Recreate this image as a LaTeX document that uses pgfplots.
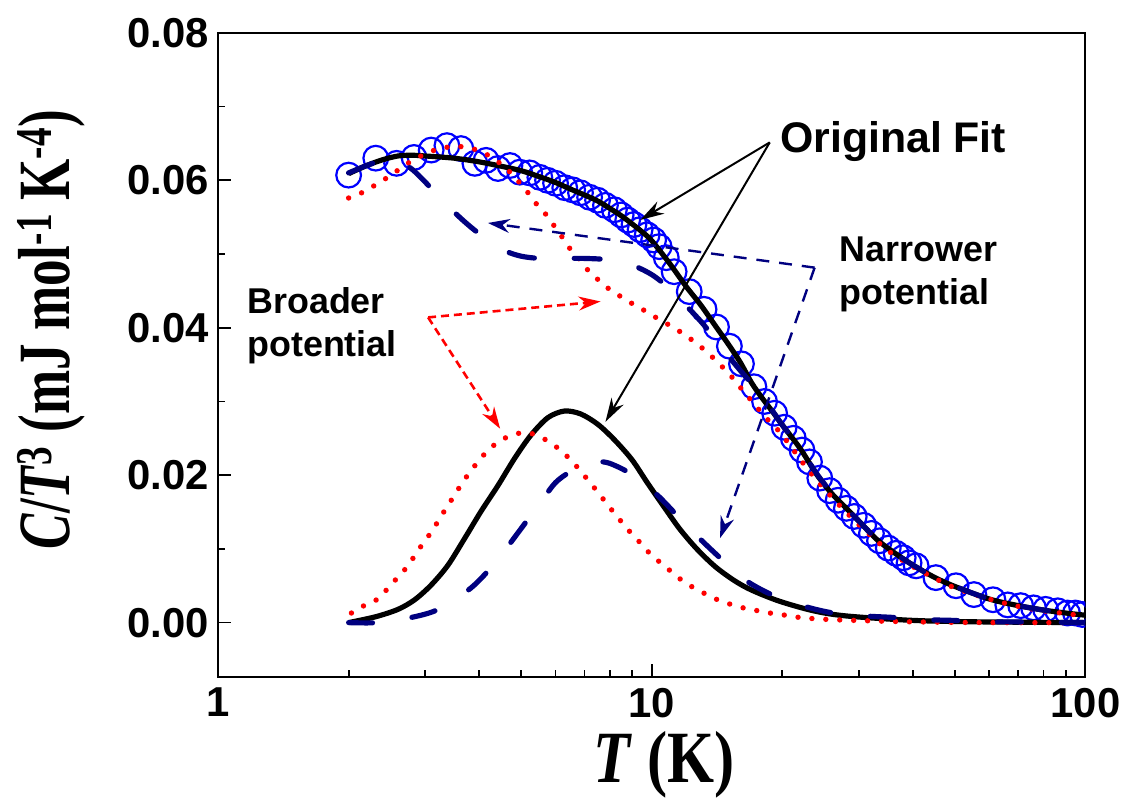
\documentclass[border=0pt]{standalone}
\usepackage{pgfplots}
\pgfplotsset{compat=1.18}
\usepackage{fontspec}
\setmainfont{Liberation Serif}
\setsansfont{Liberation Sans}
\usetikzlibrary{arrows.meta}
\usepackage{graphicx}
\definecolor{dnavy}{rgb}{0,0,0.5}

\begin{document}
\begin{tikzpicture}
\begin{axis}[
  name=ax,
  scale only axis, width=435.5pt, height=323.5pt,
  xmode=log, xmin=1, xmax=100,
  ymin=-0.0074, ymax=0.08,
  scaled y ticks=false,
  clip marker paths=true,
  xtick={1,10,100}, xticklabels={1,10,100},
  minor xtick={2,3,4,5,6,7,8,9,20,30,40,50,60,70,80,90},
  ytick={0,0.02,0.04,0.06,0.08}, yticklabels={0.00,0.02,0.04,0.06,0.08},
  minor ytick={0.01,0.03,0.05,0.07},
  xtick pos=left, ytick pos=left,
  tick align=inside,
  major tick length=6.5pt, minor tick length=3.5pt,
  every tick/.style={black, line width=0.9pt},
  axis line style={line width=1pt},
  tick label style={font=\sffamily\bfseries\fontsize{21}{21}\selectfont},
  xticklabel style={yshift=-2pt},
  yticklabel style={xshift=-1pt},
]
% experimental data
\addplot[only marks, mark=o, mark size=6.2pt, blue, mark options={line width=1.1pt}] coordinates {
(2.0,0.0607)(2.31,0.0630)(2.58,0.0623)(2.83,0.0631)(3.10,0.0641)(3.37,0.0647)(3.63,0.0643)
(3.91,0.0623)(4.15,0.0627)(4.42,0.0616)(4.71,0.0620)(4.96,0.0611)(5.23,0.0610)(5.52,0.0604)
(5.75,0.0600)(6.00,0.0596)(6.30,0.0590)(6.57,0.0587)(6.85,0.0583)(7.19,0.0577)(7.50,0.0573)
(7.82,0.0566)(8.20,0.0560)(8.50,0.0553)(8.80,0.0546)(9.10,0.0540)(9.40,0.0533)(9.76,0.0526)
(10.1,0.0519)(10.4,0.0510)(10.8,0.0495)(11.26,0.0476)(12.2,0.0449)(13.2,0.0425)(14.1,0.0401)
(15.1,0.0375)(16.1,0.0351)(17.2,0.0320)(18.2,0.0300)(19.2,0.0284)(20.2,0.0265)(21.2,0.0250)
(22.2,0.0234)(23.1,0.0218)(24.4,0.0196)(25.7,0.0179)(26.9,0.0166)(28.1,0.0155)(29.3,0.0144)
(30.8,0.0132)(32.1,0.0121)(33.5,0.0111)(35.1,0.0101)(36.6,0.0094)(38.0,0.0088)(39.2,0.0081)
(40.7,0.0077)(45.2,0.0061)(50.3,0.0050)(55.3,0.0038)(61.2,0.0031)(66.2,0.0024)(70.9,0.0023)
(75.9,0.0020)(80.9,0.0018)(86.3,0.0016)(90.9,0.0013)(94.8,0.0013)(98.4,0.0011)(101,0.0010)
};
% original fit, total
\addplot[black, line width=2.6pt, smooth] coordinates {
(2.0,0.0609)(2.2,0.0620)(2.4,0.0628)(2.6,0.0633)(2.8,0.0634)(3.0,0.0633)(3.5,0.0630)(4.0,0.0625)
(4.5,0.0619)(5.0,0.0613)(5.5,0.0605)(6.0,0.0597)(6.5,0.0588)(7.0,0.0580)(7.5,0.0572)(8.0,0.0562)
(8.5,0.0552)(9.0,0.0541)(9.5,0.0530)(10,0.0518)(11,0.0487)(12,0.0456)(13,0.0430)(14,0.0403)
(15,0.0378)(16,0.0353)(17,0.0325)(18,0.0304)(19,0.0286)(20,0.0268)(22,0.0236)(24,0.0201)
(26,0.0175)(28,0.0156)(30,0.0138)(33,0.0113)(36,0.0096)(40,0.0078)(45,0.0061)(50,0.0049)
(60,0.0032)(70,0.0023)(80,0.0017)(90,0.0013)(100,0.0010)
};
% original fit, localized mode
\addplot[black, line width=2.6pt, smooth] coordinates {
(2.0,0.0000)(2.31,0.0008)(2.6,0.0018)(2.84,0.0031)(3.1,0.0051)(3.39,0.0078)(3.71,0.0115)
(4.04,0.0151)(4.42,0.0186)(4.83,0.0223)(5.26,0.0254)(5.76,0.0278)(6.29,0.0287)(6.86,0.0283)
(7.51,0.0269)(8.2,0.0248)(9.0,0.0221)(9.76,0.0190)(10.7,0.0156)(11.6,0.0127)(12.7,0.0100)
(14.0,0.0076)(15.5,0.0057)(17.0,0.0044)(19.7,0.0029)(23.6,0.0016)(28.1,0.0009)(40,0.0003)
(56.8,0.0001)(100,0.0)
};
% broader potential, total
\addplot[red, line width=2.7pt, dash pattern=on 0pt off 7pt, line cap=round, smooth] coordinates {
(2.0,0.0576)(2.16,0.0584)(2.46,0.0604)(2.79,0.0626)(3.16,0.0641)(3.57,0.0646)(4.04,0.0639)
(4.58,0.0618)(5.12,0.0587)(5.40,0.0569)(5.66,0.0556)(6.23,0.0522)(6.5,0.0506)(6.85,0.0491)
(7.2,0.0475)(7.67,0.0461)(8.15,0.0448)(8.7,0.0439)(9.2,0.0429)(9.8,0.0421)(10.4,0.0411)
(11.1,0.0402)(11.8,0.0392)(12.6,0.0380)(13.4,0.0367)(14.2,0.0353)(15.1,0.0337)(15.9,0.0321)
(16.7,0.0306)(17.6,0.0290)(18.6,0.0274)(19.7,0.0259)(20.8,0.0241)(23.1,0.0205)(26.2,0.0168)
(30,0.0133)(35,0.0098)(40,0.0076)(45,0.0060)(50,0.0047)(60,0.0032)(70,0.0022)(80,0.0016)(100,0.0009)
};
% broader potential, localized mode
\addplot[red, line width=2.7pt, dash pattern=on 0pt off 7pt, line cap=round, smooth] coordinates {
(2.03,0.0013)(2.17,0.0023)(2.32,0.0031)(2.46,0.0046)(2.60,0.0062)(2.75,0.0078)(2.86,0.0094)
(3.0,0.0111)(3.12,0.0125)(3.25,0.0142)(3.38,0.0158)(3.52,0.0174)(3.66,0.0190)(3.83,0.0206)
(4.01,0.0221)(4.23,0.0236)(4.51,0.0248)(4.80,0.0255)(5.12,0.0258)(5.43,0.0254)(5.81,0.0245)
(6.18,0.0233)(6.57,0.0218)(6.93,0.0202)(7.30,0.0186)(7.67,0.0170)(8.03,0.0155)(8.45,0.0139)
(8.91,0.0123)(9.45,0.0107)(10.0,0.0091)(10.7,0.0077)(11.4,0.0063)(12.1,0.0052)(12.9,0.0043)
(13.7,0.0035)(14.6,0.0028)(15.6,0.0023)(16.5,0.0019)(17.6,0.0016)(18.7,0.0013)(19.9,0.0011)
(21.2,0.0008)(24.1,0.0005)(29.2,0.0003)(40,0.0001)(60,0.0)(100,0.0)
};
% narrower potential, total
\addplot[dnavy, line width=2.6pt, dash pattern=on 13pt off 20pt, line cap=round, smooth] coordinates {
(2.0,0.0610)(2.2,0.0620)(2.4,0.0627)(2.6,0.0627)(2.8,0.0615)(3.0,0.0598)(3.2,0.0580)(3.5,0.0557)
(3.8,0.0538)(4.2,0.0518)(4.6,0.0504)(5.0,0.0497)(5.5,0.0494)(6.0,0.0494)(7.0,0.0494)(8.0,0.0492)
(9.0,0.0485)(10,0.0472)(11,0.0453)(12,0.0430)(13,0.0408)(14,0.0385)(15,0.0362)(16,0.0342)
(17,0.0324)(18,0.0305)(19,0.0287)(20,0.0268)(22,0.0236)(24,0.0202)(26,0.0176)(28,0.0156)
(30,0.0138)(33,0.0113)(36,0.0096)(40,0.0078)(45,0.0061)(50,0.0049)(60,0.0032)(70,0.0023)
(80,0.0017)(90,0.0013)(100,0.0010)
};
% narrower potential, localized mode
\addplot[dnavy, line width=2.6pt, dash pattern=on 12pt off 20pt, line cap=round, smooth] coordinates {
(2.0,0.0000)(2.34,0.0000)(2.79,0.0007)(3.22,0.0018)(3.83,0.0047)(4.35,0.0081)(4.96,0.0125)
(5.52,0.0162)(6.0,0.0190)(6.5,0.0205)(7.0,0.0213)(7.5,0.0218)(8.0,0.0216)(8.93,0.0202)
(10.3,0.0173)(12.1,0.0130)(14.0,0.0094)(16.4,0.0058)(19.2,0.0036)(22.5,0.0022)(26.2,0.0013)
(31,0.0009)(36,0.0007)(42.4,0.0004)(49.4,0.0003)(58,0.0001)(68,0.0001)(100,0.0)
};
% annotations
\draw[black, line width=1pt, -{Stealth[length=12pt,width=7pt]}] (axis cs:18.71,0.06514) -- (axis cs:9.41,0.05462);
\draw[black, line width=1pt, -{Stealth[length=12pt,width=7pt]}] (axis cs:18.71,0.06514) -- (axis cs:7.82,0.02724);
\draw[red, line width=1.3pt, dash pattern=on 4pt off 2.5pt, -{Stealth[length=11pt,width=7pt]}] (axis cs:3.05,0.0414) -- (axis cs:7.62,0.04356);
\draw[red, line width=1.3pt, dash pattern=on 4pt off 2.5pt, -{Stealth[length=11pt,width=7pt]}] (axis cs:3.05,0.0414) -- (axis cs:4.47,0.0263);
\draw[dnavy, line width=1.2pt, dash pattern=on 6.5pt off 5pt, -{Stealth[length=11pt,width=7pt]}] (axis cs:23.74,0.04815) -- (axis cs:4.19,0.05421);
\draw[dnavy, line width=1.2pt, dash pattern=on 6.5pt off 5pt, -{Stealth[length=11pt,width=7pt]}] (axis cs:23.74,0.04815) -- (axis cs:14.37,0.01146);
\node[anchor=base west, inner sep=0, font=\sffamily\bfseries\fontsize{21.5}{21.5}\selectfont] at (axis cs:19.73,0.0638) {Original Fit};
\node[anchor=base west, inner sep=0, font=\sffamily\bfseries\fontsize{18}{18}\selectfont] at (axis cs:27.09,0.04895) {Narrower};
\node[anchor=base west, inner sep=0, font=\sffamily\bfseries\fontsize{18}{18}\selectfont] at (axis cs:27.09,0.0432) {potential};
\node[anchor=base west, inner sep=0, font=\sffamily\bfseries\fontsize{18}{18}\selectfont] at (axis cs:1.166,0.04194) {Broader};
\node[anchor=base west, inner sep=0, font=\sffamily\bfseries\fontsize{18}{18}\selectfont] at (axis cs:1.166,0.03614) {potential};
\end{axis}
% axis labels
\node[anchor=center, inner sep=0] at ([xshift=224pt,yshift=-44pt]ax.south west)
  {\fontsize{37}{37}\selectfont\bfseries\scalebox{0.82}[1]{\textit{T} (K)}};
\node[rotate=90, anchor=center, inner sep=0] at ([xshift=-84pt,yshift=174.4pt]ax.south west)
  {\fontsize{37}{37}\selectfont\bfseries\scalebox{0.72}[1]{\textit{C}/\textit{T}\textsuperscript{3} (mJ mol\textsuperscript{-1} K\textsuperscript{-4})}};
% page frame
\path ([xshift=-109.5pt,yshift=-62pt]ax.south west) rectangle ([xshift=18.5pt,yshift=16.5pt]ax.north east);
\end{tikzpicture}
\end{document}
